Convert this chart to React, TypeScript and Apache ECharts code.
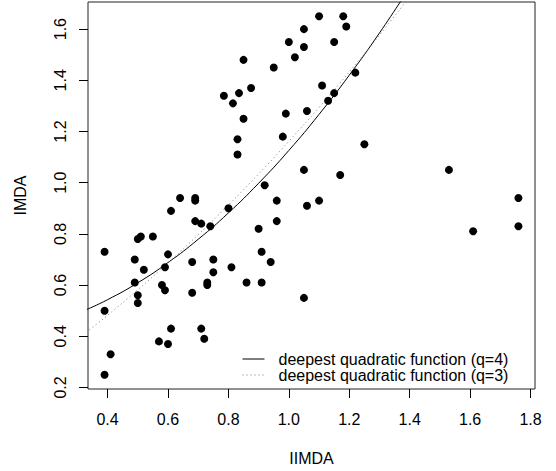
import React, { useEffect, useRef } from "react";
import * as echarts from "echarts";

const pointX = [
  0.85, 0.95, 0.785, 0.815, 0.835, 0.875, 0.85, 0.83, 0.83, 0.92,
  0.98, 0.96, 0.96, 0.9, 0.8, 0.74, 0.71, 0.69, 0.69, 0.69,
  0.64, 0.61, 0.55, 0.51, 0.5, 0.39, 0.49, 0.52, 0.49, 0.5,
  0.5, 0.39, 0.41, 0.39, 0.6, 0.59, 0.58, 0.59, 0.57, 0.6,
  0.61, 0.68, 0.68, 0.71, 0.72, 0.73, 0.73, 0.75, 0.75, 0.81,
  0.86, 0.91, 0.91, 0.94, 1.1, 1.18, 1.19, 1.05, 1.0, 1.05,
  1.02, 1.15, 1.22, 1.11, 1.15, 1.13, 1.06, 0.99, 1.25, 1.05,
  1.17, 1.53, 1.06, 1.1, 1.61, 1.76, 1.76, 1.05,
];
const pointY = [
  1.48, 1.45, 1.34, 1.31, 1.35, 1.37, 1.25, 1.17, 1.11, 0.99,
  1.18, 0.93, 0.85, 0.82, 0.9, 0.83, 0.84, 0.85, 0.94, 0.93,
  0.94, 0.89, 0.79, 0.79, 0.78, 0.73, 0.7, 0.66, 0.61, 0.56,
  0.53, 0.5, 0.33, 0.25, 0.72, 0.67, 0.6, 0.58, 0.38, 0.37,
  0.43, 0.69, 0.57, 0.43, 0.39, 0.61, 0.6, 0.7, 0.65, 0.67,
  0.61, 0.61, 0.73, 0.69, 1.65, 1.65, 1.61, 1.6, 1.55, 1.53,
  1.49, 1.55, 1.43, 1.38, 1.35, 1.32, 1.28, 1.27, 1.15, 1.05,
  1.03, 1.05, 0.91, 0.93, 0.81, 0.94, 0.83, 0.55,
];

const curveX = [0.33, 0.4, 0.5, 0.6, 0.7, 0.8, 0.9, 1.0, 1.1, 1.2, 1.3, 1.4];
const curveQ4 = [0.504, 0.543, 0.609, 0.688, 0.779, 0.882, 0.998, 1.126, 1.267, 1.42, 1.585, 1.763];
const curveQ3 = [0.416, 0.482, 0.582, 0.686, 0.797, 0.913, 1.034, 1.162, 1.294, 1.433, 1.577, 1.726];

const xTicks = [0.4, 0.6, 0.8, 1.0, 1.2, 1.4, 1.6, 1.8];
const yTicks = [0.2, 0.4, 0.6, 0.8, 1.0, 1.2, 1.4, 1.6];

const nameQ4 = "deepest quadratic function (q=4)";
const nameQ3 = "deepest quadratic function (q=3)";

const FONT = "'Liberation Sans', Arial, Helvetica, sans-serif";

export default function App() {
  const ref = useRef<HTMLDivElement>(null);
  useEffect(() => {
    document.body.style.margin = "0";
    if (!ref.current) return;
    const chart = echarts.init(ref.current, undefined, { renderer: "svg" });
    const labelStyle = { color: "#000", fontSize: 16, fontFamily: FONT };
    const legendBase = {
      orient: "vertical",
      left: 237,
      itemWidth: 22,
      itemHeight: 10,
      itemStyle: { color: "rgba(0,0,0,0)", borderWidth: 0 },
      lineStyle: { width: 1 },
      textStyle: { ...labelStyle, padding: [0, 0, 0, 9] },
      selectedMode: false,
    };
    chart.setOption({
      animation: false,
      backgroundColor: "#fff",
      textStyle: { fontFamily: FONT },
      grid: {
        left: 88,
        right: 21,
        top: 2,
        bottom: 81,
        show: true,
        borderColor: "#222",
        borderWidth: 1,
        backgroundColor: "transparent",
      },
      legend: [
        { ...legendBase, top: 346, data: [nameQ4] },
        { ...legendBase, top: 362, data: [nameQ3] },
      ],
      xAxis: {
        type: "value",
        min: 0.3352,
        max: 1.8148,
        name: "IIMDA",
        nameLocation: "middle",
        nameGap: 61,
        nameTextStyle: labelStyle,
        axisLine: { show: false },
        splitLine: { show: false },
        axisTick: {
          show: true,
          length: 9,
          customValues: xTicks,
          lineStyle: { color: "#000", width: 1 },
        },
        axisLabel: {
          ...labelStyle,
          margin: 22,
          customValues: xTicks,
          formatter: (v: number) => v.toFixed(1),
        },
      },
      yAxis: {
        type: "value",
        min: 0.194,
        max: 1.706,
        name: "IMDA",
        nameLocation: "middle",
        nameGap: 60,
        nameTextStyle: labelStyle,
        axisLine: { show: false },
        splitLine: { show: false },
        axisTick: {
          show: true,
          length: 9,
          customValues: yTicks,
          lineStyle: { color: "#000", width: 1 },
        },
        axisLabel: {
          ...labelStyle,
          margin: 20,
          rotate: 90,
          customValues: yTicks,
          formatter: (v: number) => v.toFixed(1),
        },
      },
      series: [
        {
          type: "scatter",
          name: "points",
          symbol: "circle",
          symbolSize: 8,
          itemStyle: { color: "#000", opacity: 1 },
          data: pointX.map((x, i) => [x, pointY[i]]),
          z: 3,
        },
        {
          type: "line",
          name: nameQ4,
          symbol: "none",
          smooth: true,
          itemStyle: { color: "rgba(0,0,0,0)" },
          lineStyle: { color: "#000", width: 1, type: "solid" },
          data: curveX.map((x, i) => [x, curveQ4[i]]),
          z: 2,
        },
        {
          type: "line",
          name: nameQ3,
          symbol: "none",
          smooth: true,
          itemStyle: { color: "rgba(0,0,0,0)" },
          lineStyle: { color: "#777", width: 1, type: [1, 3] },
          data: curveX.map((x, i) => [x, curveQ3[i]]),
          z: 2,
        },
      ],
    });
    return () => chart.dispose();
  }, []);
  return <div ref={ref} style={{ width: 556, height: 471 }} />;
}
